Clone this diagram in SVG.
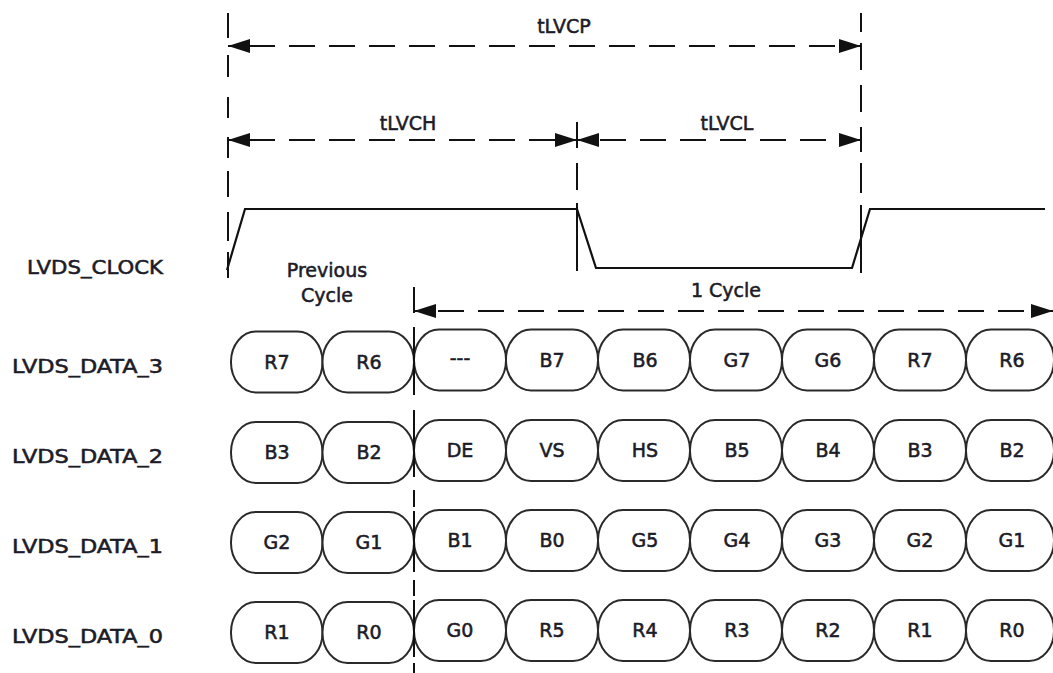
<svg xmlns="http://www.w3.org/2000/svg" width="1053" height="673" viewBox="0 0 1053 673">
<defs>
<marker id="ah" markerUnits="userSpaceOnUse" markerWidth="22" markerHeight="14" refX="22" refY="7" orient="auto-start-reverse">
<path d="M0,0 L22,7 L0,14 z" fill="#111"/>
</marker>
</defs>
<style>
text{font-family:"DejaVu Sans","Liberation Sans",sans-serif;font-size:19px;fill:#1c1c28;stroke:#1c1c28;stroke-width:0.55px}
.c{text-anchor:middle}
.lbl{text-anchor:start}
.cell{fill:#fff;stroke:#2a2a2a;stroke-width:2}
.dim{fill:none;stroke:#111;stroke-width:2;stroke-dasharray:26 14}
.vl{fill:none;stroke:#111;stroke-width:2}
.wave{fill:none;stroke:#111;stroke-width:2.2;stroke-linejoin:miter}
</style>
<rect width="1053" height="673" fill="#fff"/>

<g id="labels">
<text class="lbl" x="27" y="274" textLength="136" lengthAdjust="spacingAndGlyphs">LVDS_CLOCK</text>
<text class="lbl" x="12" y="373" textLength="151" lengthAdjust="spacingAndGlyphs">LVDS_DATA_3</text>
<text class="lbl" x="12" y="463" textLength="151" lengthAdjust="spacingAndGlyphs">LVDS_DATA_2</text>
<text class="lbl" x="12" y="553" textLength="151" lengthAdjust="spacingAndGlyphs">LVDS_DATA_1</text>
<text class="lbl" x="12" y="643" textLength="151" lengthAdjust="spacingAndGlyphs">LVDS_DATA_0</text>
</g>

<g id="connectors">
<path class="vl" d="M228,13 V38 M228,55 V77 M228,97 V118 M228,137 V158 M228,171 V197 M228,212 V241 M228,252 V278"/>
<path class="vl" d="M577,122 V148 M577,163 V190 M577,203 V271"/>
<path class="vl" d="M861,13 V32 M861,43 V70 M861,85 V112 M861,127 V152 M861,163 V193 M861,205 V273"/>
<path class="vl" d="M414,287 V313 M414,327 V395 M414,410 V477 M414,490 V507 M414,511 V572 M414,580 V596 M414,600 V657 M414,663 V673"/>
<line class="dim" x1="228" y1="46" x2="861" y2="46" stroke-dashoffset="19" marker-start="url(#ah)" marker-end="url(#ah)"/>
<line class="dim" x1="228" y1="140" x2="577" y2="140" stroke-dashoffset="19" marker-start="url(#ah)" marker-end="url(#ah)"/>
<line class="dim" x1="577" y1="140" x2="861" y2="140" stroke-dashoffset="17" marker-start="url(#ah)" marker-end="url(#ah)"/>
<line class="dim" x1="414" y1="311" x2="1053" y2="311" stroke-dashoffset="16" marker-start="url(#ah)" marker-end="url(#ah)"/>
<path class="wave" d="M227,270 L245,209 L577,209 L596,268 L852,268 L870,209 L1045,209"/>
</g>

<g id="dim-labels">
<text class="c" x="564" y="33">tLVCP</text>
<text class="c" x="408" y="130">tLVCH</text>
<text class="c" x="727" y="130">tLVCL</text>
<text class="c" x="726" y="297">1 Cycle</text>
<text class="c" x="327" y="277">Previous</text>
<text class="c" x="327" y="302">Cycle</text>
</g>

<g id="row-data3">
<rect class="cell" x="231" y="331.5" width="91.5" height="61" rx="25" ry="30"/><text class="c" x="277" y="369">R7</text>
<rect class="cell" x="322.5" y="331.5" width="91.5" height="61" rx="25" ry="30"/><text class="c" x="369" y="369">R6</text>
<rect class="cell" x="414" y="329.5" width="92" height="61" rx="25" ry="30"/><text class="c" x="460" y="365">---</text>
<rect class="cell" x="506" y="329.5" width="92" height="61" rx="25" ry="30"/><text class="c" x="552" y="367">B7</text>
<rect class="cell" x="598" y="329.5" width="92" height="61" rx="25" ry="30"/><text class="c" x="645" y="367">B6</text>
<rect class="cell" x="690" y="329.5" width="92" height="61" rx="25" ry="30"/><text class="c" x="737" y="367">G7</text>
<rect class="cell" x="782" y="329.5" width="92" height="61" rx="25" ry="30"/><text class="c" x="828" y="367">G6</text>
<rect class="cell" x="874" y="329.5" width="92" height="61" rx="25" ry="30"/><text class="c" x="920" y="367">R7</text>
<rect class="cell" x="966" y="329.5" width="88" height="61" rx="25" ry="30"/><text class="c" x="1012" y="367">R6</text>
</g>

<g id="row-data2">
<rect class="cell" x="231" y="422" width="91.5" height="61" rx="25" ry="30"/><text class="c" x="277" y="459">B3</text>
<rect class="cell" x="322.5" y="422" width="91.5" height="61" rx="25" ry="30"/><text class="c" x="369" y="459">B2</text>
<rect class="cell" x="414" y="420" width="92" height="61" rx="25" ry="30"/><text class="c" x="460" y="457">DE</text>
<rect class="cell" x="506" y="420" width="92" height="61" rx="25" ry="30"/><text class="c" x="552" y="457">VS</text>
<rect class="cell" x="598" y="420" width="92" height="61" rx="25" ry="30"/><text class="c" x="645" y="457">HS</text>
<rect class="cell" x="690" y="420" width="92" height="61" rx="25" ry="30"/><text class="c" x="737" y="457">B5</text>
<rect class="cell" x="782" y="420" width="92" height="61" rx="25" ry="30"/><text class="c" x="828" y="457">B4</text>
<rect class="cell" x="874" y="420" width="92" height="61" rx="25" ry="30"/><text class="c" x="920" y="457">B3</text>
<rect class="cell" x="966" y="420" width="88" height="61" rx="25" ry="30"/><text class="c" x="1012" y="457">B2</text>
</g>

<g id="row-data1">
<rect class="cell" x="231" y="512" width="91.5" height="61" rx="25" ry="30"/><text class="c" x="277" y="549">G2</text>
<rect class="cell" x="322.5" y="512" width="91.5" height="61" rx="25" ry="30"/><text class="c" x="369" y="549">G1</text>
<rect class="cell" x="414" y="510" width="92" height="61" rx="25" ry="30"/><text class="c" x="460" y="547">B1</text>
<rect class="cell" x="506" y="510" width="92" height="61" rx="25" ry="30"/><text class="c" x="552" y="547">B0</text>
<rect class="cell" x="598" y="510" width="92" height="61" rx="25" ry="30"/><text class="c" x="645" y="547">G5</text>
<rect class="cell" x="690" y="510" width="92" height="61" rx="25" ry="30"/><text class="c" x="737" y="547">G4</text>
<rect class="cell" x="782" y="510" width="92" height="61" rx="25" ry="30"/><text class="c" x="828" y="547">G3</text>
<rect class="cell" x="874" y="510" width="92" height="61" rx="25" ry="30"/><text class="c" x="920" y="547">G2</text>
<rect class="cell" x="966" y="510" width="88" height="61" rx="25" ry="30"/><text class="c" x="1012" y="547">G1</text>
</g>

<g id="row-data0">
<rect class="cell" x="231" y="602" width="91.5" height="61" rx="25" ry="30"/><text class="c" x="277" y="639">R1</text>
<rect class="cell" x="322.5" y="602" width="91.5" height="61" rx="25" ry="30"/><text class="c" x="369" y="639">R0</text>
<rect class="cell" x="414" y="600" width="92" height="61" rx="25" ry="30"/><text class="c" x="460" y="637">G0</text>
<rect class="cell" x="506" y="600" width="92" height="61" rx="25" ry="30"/><text class="c" x="552" y="637">R5</text>
<rect class="cell" x="598" y="600" width="92" height="61" rx="25" ry="30"/><text class="c" x="645" y="637">R4</text>
<rect class="cell" x="690" y="600" width="92" height="61" rx="25" ry="30"/><text class="c" x="737" y="637">R3</text>
<rect class="cell" x="782" y="600" width="92" height="61" rx="25" ry="30"/><text class="c" x="828" y="637">R2</text>
<rect class="cell" x="874" y="600" width="92" height="61" rx="25" ry="30"/><text class="c" x="920" y="637">R1</text>
<rect class="cell" x="966" y="600" width="88" height="61" rx="25" ry="30"/><text class="c" x="1012" y="637">R0</text>
</g>

<g id="divider-overlay">
<path class="vl" d="M414,327 V395 M414,410 V477 M414,511 V572 M414,600 V657"/>
</g>
</svg>
